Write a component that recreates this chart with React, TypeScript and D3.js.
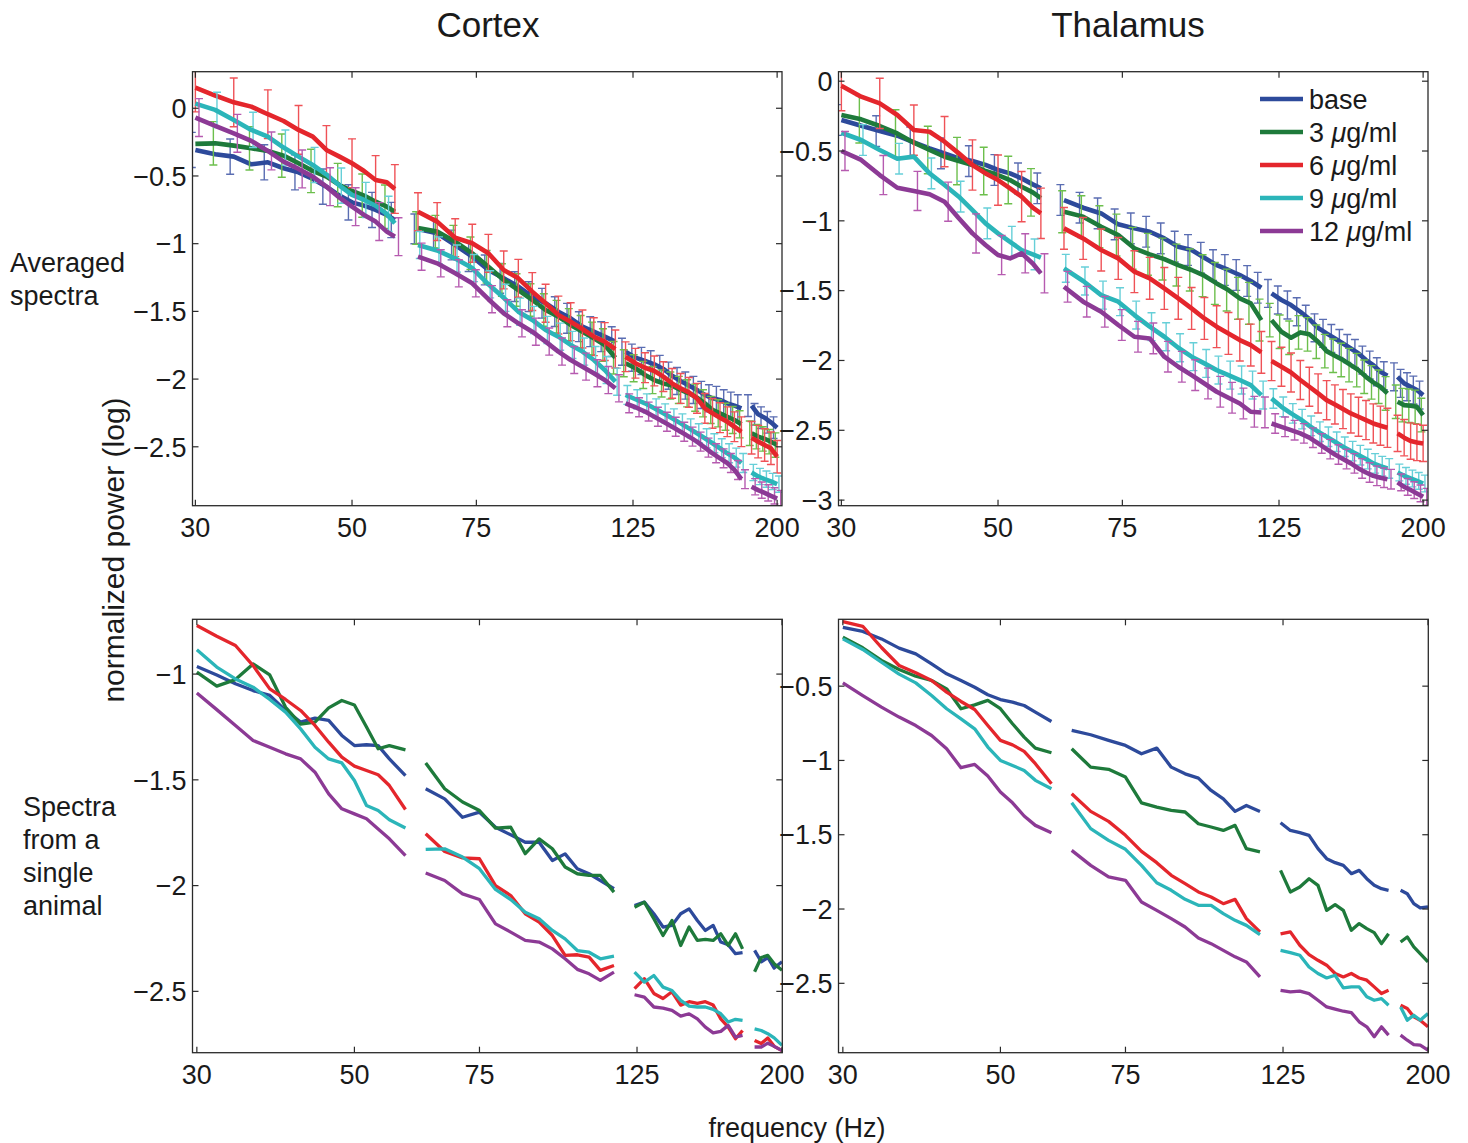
import * as d3 from "d3"

// legend / series
const seriesLabels = ["base", "3", "6", "9", "12"]
const lineColors = ["#2d4a9b", "#1e7a3b", "#e4262c", "#2bb5b9", "#8c3a95"]
const barColors = ["#5a6db2", "#6cbf4c", "#ef5257", "#66cfd8", "#b65bb0"]

// frequency bins (Hz), split where the line-noise harmonics were cut out
const topFreqs = [
  [30, 32, 34, 36, 38, 40, 42, 44, 46, 48, 50, 52, 54, 56, 57.5],
  [62, 66, 70, 74, 78, 82, 86, 90, 94, 98, 102, 106, 110, 114, 118],
  [122, 126, 130, 134, 138, 142, 146, 150, 154, 158, 162, 166, 170, 174, 178],
  [184, 188, 192, 196, 200],
]
const bottomFreqs = [
  [30, 32, 34, 36, 38, 40, 42, 44, 46, 48, 50, 52, 54, 56, 59],
  [63, 67, 71, 75, 79, 83, 87, 91, 95, 99, 103, 107, 111, 116],
  [124, 128, 132, 136, 140, 144, 148, 152, 156, 160, 164, 168, 172, 176],
  [183, 187, 191, 195, 200],
]

const xTicks = [30, 50, 75, 125, 200]

// Cortex, averaged
const ctxAvgBase = [
  -0.308, -0.34, -0.357, -0.414, -0.399, -0.443, -0.473, -0.522, -0.579, -0.645, -0.695, -0.719, -0.751, -0.788, -0.825,
  -0.891, -0.923, -1.01, -1.096, -1.194, -1.256, -1.317, -1.391, -1.44, -1.502, -1.551, -1.613, -1.65, -1.687, -1.723,
  -1.798, -1.842, -1.866, -1.891, -1.925, -1.975, -2.014, -2.048, -2.08, -2.117, -2.142, -2.154, -2.179, -2.196, -2.216,
  -2.196, -2.26, -2.285, -2.319, -2.359,
]
const ctxAvg3 = [
  -0.263, -0.259, -0.276, -0.296, -0.315, -0.35, -0.406, -0.463, -0.505, -0.567, -0.611, -0.645, -0.69, -0.727, -0.764,
  -0.884, -0.911, -0.985, -1.071, -1.17, -1.268, -1.342, -1.416, -1.49, -1.539, -1.6, -1.65, -1.699, -1.748, -1.842,
  -1.883, -1.92, -1.969, -2.007, -2.032, -2.048, -2.08, -2.105, -2.137, -2.179, -2.228, -2.253, -2.278, -2.302, -2.334,
  -2.4, -2.425, -2.442, -2.462, -2.487,
]
const ctxAvg6 = [
  0.153, 0.094, 0.044, 0.012, -0.044, -0.094, -0.16, -0.209, -0.308, -0.357, -0.406, -0.463, -0.53, -0.547, -0.596,
  -0.764, -0.837, -0.956, -0.997, -1.071, -1.194, -1.256, -1.354, -1.44, -1.527, -1.576, -1.63, -1.687, -1.723, -1.778,
  -1.835, -1.883, -1.916, -1.94, -1.982, -2.032, -2.069, -2.098, -2.142, -2.216, -2.253, -2.285, -2.315, -2.352, -2.389,
  -2.433, -2.462, -2.487, -2.511, -2.573,
]
const ctxAvg9 = [
  0.034, -0.012, -0.086, -0.16, -0.209, -0.29, -0.357, -0.419, -0.49, -0.571, -0.64, -0.677, -0.72, -0.78, -0.85,
  -1.01, -1.05, -1.11, -1.18, -1.3, -1.4, -1.502, -1.563, -1.637, -1.687, -1.748, -1.797, -1.859, -1.933, -2.019,
  -2.117, -2.149, -2.179, -2.216, -2.253, -2.29, -2.327, -2.364, -2.4, -2.437, -2.474, -2.511, -2.548, -2.58, -2.62,
  -2.69, -2.719, -2.739, -2.756, -2.776,
]
const ctxAvg12 = [
  -0.069, -0.13, -0.185, -0.241, -0.315, -0.394, -0.448, -0.505, -0.579, -0.66, -0.727, -0.788, -0.837, -0.911, -0.948,
  -1.096, -1.145, -1.219, -1.293, -1.41, -1.514, -1.588, -1.65, -1.723, -1.797, -1.859, -1.908, -1.957, -2.007, -2.068,
  -2.179, -2.208, -2.24, -2.278, -2.315, -2.352, -2.389, -2.425, -2.462, -2.506, -2.548, -2.585, -2.62, -2.671, -2.739,
  -2.795, -2.82, -2.84, -2.862, -2.882,
]
// s.e.m. per segment
const ctxAvgErr = [
  [0.13, 0.11, 0.1, 0.08],
  [0.16, 0.12, 0.1, 0.09],
  [0.18, 0.14, 0.11, 0.12],
  [0.13, 0.1, 0.07, 0.06],
  [0.14, 0.1, 0.07, 0.06],
]

// Thalamus, averaged
const thalAvgBase = [
  -0.278, -0.319, -0.357, -0.39, -0.438, -0.481, -0.517, -0.553, -0.572, -0.6, -0.636, -0.66, -0.696, -0.739, -0.767,
  -0.851, -0.906, -0.947, -1.025, -1.054, -1.078, -1.126, -1.185, -1.209, -1.264, -1.317, -1.352, -1.388, -1.431, -1.479,
  -1.52, -1.567, -1.603, -1.651, -1.704, -1.766, -1.806, -1.842, -1.878, -1.914, -1.95, -1.997, -2.033, -2.081, -2.109,
  -2.117, -2.164, -2.188, -2.212, -2.248,
]
const thalAvg3 = [
  -0.242, -0.273, -0.321, -0.374, -0.44, -0.493, -0.541, -0.572, -0.6, -0.643, -0.672, -0.708, -0.756, -0.796, -0.838,
  -0.935, -0.97, -1.042, -1.102, -1.197, -1.24, -1.274, -1.317, -1.352, -1.393, -1.448, -1.496, -1.555, -1.591, -1.711,
  -1.711, -1.794, -1.837, -1.799, -1.813, -1.866, -1.933, -1.966, -1.997, -2.033, -2.069, -2.117, -2.157, -2.188, -2.236,
  -2.296, -2.32, -2.324, -2.332, -2.391,
]
const thalAvg6 = [
  -0.032, -0.111, -0.159, -0.242, -0.35, -0.362, -0.433, -0.517, -0.6, -0.66, -0.708, -0.767, -0.827, -0.906, -0.946,
  -1.054, -1.126, -1.209, -1.269, -1.364, -1.412, -1.484, -1.555, -1.627, -1.699, -1.758, -1.806, -1.854, -1.89, -1.942,
  -2.004, -2.045, -2.086, -2.14, -2.188, -2.236, -2.284, -2.315, -2.348, -2.379, -2.403, -2.427, -2.451, -2.467, -2.482,
  -2.522, -2.553, -2.577, -2.587, -2.594,
]
const thalAvg9 = [
  -0.369, -0.421, -0.493, -0.555, -0.54, -0.66, -0.743, -0.827, -0.923, -1.018, -1.09, -1.15, -1.209, -1.24, -1.264,
  -1.34, -1.431, -1.532, -1.579, -1.675, -1.758, -1.83, -1.909, -1.973, -2.021, -2.069, -2.105, -2.14, -2.176, -2.248,
  -2.272, -2.332, -2.379, -2.42, -2.468, -2.51, -2.546, -2.582, -2.618, -2.649, -2.678, -2.706, -2.737, -2.757, -2.773,
  -2.802, -2.826, -2.845, -2.862, -2.881,
]
const thalAvg12 = [
  -0.5, -0.564, -0.672, -0.763, -0.786, -0.81, -0.863, -0.982, -1.09, -1.173, -1.245, -1.269, -1.233, -1.305, -1.376,
  -1.472, -1.579, -1.651, -1.746, -1.83, -1.842, -1.973, -2.045, -2.105, -2.165, -2.224, -2.267, -2.308, -2.367, -2.372,
  -2.451, -2.475, -2.499, -2.522, -2.553, -2.594, -2.635, -2.673, -2.706, -2.737, -2.773, -2.802, -2.826, -2.84, -2.85,
  -2.873, -2.905, -2.928, -2.952, -2.976,
]
const thalAvgErr = [
  [0.11, 0.11, 0.1, 0.1],
  [0.17, 0.15, 0.12, 0.12],
  [0.18, 0.15, 0.14, 0.13],
  [0.11, 0.1, 0.07, 0.06],
  [0.14, 0.11, 0.07, 0.06],
]

// Cortex, single animal
const ctxOneBase = [
  -0.964, -1.004, -1.046, -1.078, -1.101, -1.172, -1.227, -1.208, -1.219, -1.29, -1.338, -1.334, -1.338, -1.401, -1.48,
  -1.542, -1.59, -1.677, -1.653, -1.724, -1.76, -1.795, -1.795, -1.881, -1.85, -1.92, -1.944, -1.976, -2.015,
  -2.094, -2.078, -2.133, -2.196, -2.188, -2.133, -2.11, -2.165, -2.212, -2.188, -2.267, -2.28, -2.322, -2.317,
  -2.306, -2.36, -2.34, -2.39, -2.36,
]
const ctxOne3 = [
  -0.991, -1.057, -1.026, -0.952, -1.004, -1.157, -1.237, -1.227, -1.16, -1.125, -1.146, -1.25, -1.353, -1.338, -1.358,
  -1.42, -1.542, -1.605, -1.645, -1.728, -1.724, -1.849, -1.779, -1.826, -1.912, -1.944, -1.952, -1.952, -2.031,
  -2.102, -2.078, -2.157, -2.236, -2.165, -2.283, -2.196, -2.259, -2.254, -2.259, -2.228, -2.283, -2.228, -2.299,
  -2.407, -2.34, -2.33, -2.37, -2.4,
]
const ctxOne6 = [
  -0.77, -0.821, -0.865, -0.96, -1.07, -1.12, -1.172, -1.243, -1.322, -1.393, -1.435, -1.456, -1.476, -1.527, -1.64,
  -1.755, -1.839, -1.869, -1.873, -2.0, -2.047, -2.133, -2.173, -2.236, -2.33, -2.327, -2.338, -2.401, -2.378,
  -2.487, -2.44, -2.51, -2.534, -2.502, -2.565, -2.549, -2.557, -2.549, -2.565, -2.63, -2.669, -2.724, -2.685,
  -2.732, -2.747, -2.72, -2.76, -2.78,
]
const ctxOne9 = [
  -0.885, -0.967, -1.023, -1.062, -1.12, -1.18, -1.259, -1.346, -1.401, -1.42, -1.503, -1.621, -1.645, -1.689, -1.728,
  -1.829, -1.826, -1.865, -1.92, -2.018, -2.066, -2.126, -2.157, -2.212, -2.252, -2.307, -2.315, -2.346, -2.333,
  -2.409, -2.456, -2.425, -2.48, -2.496, -2.543, -2.57, -2.574, -2.574, -2.585, -2.606, -2.645, -2.632, -2.637,
  -2.677, -2.685, -2.7, -2.72, -2.755,
]
const ctxOne12 = [
  -1.089, -1.168, -1.243, -1.314, -1.346, -1.377, -1.401, -1.464, -1.566, -1.637, -1.661, -1.684, -1.732, -1.779, -1.858,
  -1.94, -1.976, -2.039, -2.066, -2.181, -2.22, -2.259, -2.267, -2.299, -2.346, -2.396, -2.417, -2.448, -2.409,
  -2.516, -2.527, -2.574, -2.579, -2.59, -2.617, -2.606, -2.63, -2.669, -2.696, -2.689, -2.661, -2.716, -2.708,
  -2.763, -2.763, -2.745, -2.76, -2.78,
]

// Thalamus, single animal
const thalOneBase = [
  -0.105, -0.132, -0.182, -0.244, -0.283, -0.35, -0.417, -0.462, -0.507, -0.558, -0.59, -0.608, -0.63, -0.675, -0.738,
  -0.798, -0.827, -0.865, -0.899, -0.955, -0.917, -1.045, -1.09, -1.119, -1.202, -1.258, -1.343, -1.303, -1.343,
  -1.419, -1.471, -1.486, -1.504, -1.594, -1.661, -1.688, -1.706, -1.762, -1.74, -1.796, -1.84, -1.863, -1.874,
  -1.874, -1.897, -1.964, -1.993, -1.986,
]
const thalOne3 = [
  -0.17, -0.242, -0.327, -0.388, -0.433, -0.462, -0.518, -0.652, -0.626, -0.596, -0.652, -0.753, -0.843, -0.917, -0.948,
  -0.921, -1.045, -1.06, -1.112, -1.285, -1.314, -1.336, -1.347, -1.426, -1.448, -1.471, -1.437, -1.594, -1.616,
  -1.74, -1.885, -1.852, -1.796, -1.841, -2.009, -1.971, -2.009, -2.143, -2.098, -2.132, -2.159, -2.233, -2.166,
  -2.222, -2.188, -2.255, -2.3, -2.356,
]
const thalOne6 = [
  -0.065, -0.097, -0.24, -0.361, -0.41, -0.462, -0.54, -0.603, -0.657, -0.765, -0.865, -0.895, -0.939, -1.022, -1.157,
  -1.224, -1.343, -1.41, -1.504, -1.612, -1.688, -1.773, -1.829, -1.885, -1.919, -1.964, -1.935, -2.065, -2.154,
  -2.168, -2.154, -2.244, -2.307, -2.345, -2.378, -2.434, -2.457, -2.434, -2.464, -2.479, -2.524, -2.569, -2.547,
  -2.648, -2.67, -2.726, -2.748, -2.793,
]
const thalOne9 = [
  -0.182, -0.253, -0.339, -0.419, -0.478, -0.563, -0.652, -0.72, -0.787, -0.91, -1.0, -1.034, -1.067, -1.134, -1.19,
  -1.285, -1.459, -1.538, -1.598, -1.706, -1.823, -1.874, -1.935, -1.975, -1.975, -2.031, -2.076, -2.11, -2.172,
  -2.278, -2.293, -2.311, -2.39, -2.434, -2.464, -2.446, -2.531, -2.524, -2.524, -2.591, -2.614, -2.603, -2.648,
  -2.659, -2.748, -2.715, -2.748, -2.704,
]
const thalOne12 = [
  -0.478, -0.563, -0.641, -0.708, -0.765, -0.832, -0.921, -1.049, -1.027, -1.105, -1.213, -1.285, -1.374, -1.437, -1.486,
  -1.605, -1.706, -1.784, -1.807, -1.953, -2.009, -2.065, -2.121, -2.195, -2.233, -2.278, -2.322, -2.356, -2.457,
  -2.547, -2.558, -2.553, -2.569, -2.614, -2.659, -2.674, -2.688, -2.697, -2.759, -2.793, -2.86, -2.793, -2.849,
  -2.849, -2.883, -2.912, -2.916, -2.95,
]

const FONT = "'Liberation Sans', Arial, Helvetica, sans-serif"
const minus = (v: number) => (v < 0 ? "\u2212" + Math.abs(v) : String(v))

const panels = [
  {
    id: "ctxAvg", x: 192.5, y: 71.7, w: 589.5, h: 434,
    xDomain: [29.72, 203.2], yDomain: [-2.935, 0.27], yTicks: [0, -0.5, -1, -1.5, -2, -2.5],
    freqs: topFreqs, series: [ctxAvgBase, ctxAvg3, ctxAvg6, ctxAvg9, ctxAvg12], err: ctxAvgErr, lw: 4.6,
  },
  {
    id: "thalAvg", x: 838.5, y: 71.7, w: 589.5, h: 434,
    xDomain: [29.72, 203.2], yDomain: [-3.04, 0.068], yTicks: [0, -0.5, -1, -1.5, -2, -2.5, -3],
    freqs: topFreqs, series: [thalAvgBase, thalAvg3, thalAvg6, thalAvg9, thalAvg12], err: thalAvgErr, lw: 4.6,
  },
  {
    id: "ctxOne", x: 192.5, y: 619.3, w: 589.8, h: 433.4,
    xDomain: [29.58, 200.2], yDomain: [-2.79, -0.741], yTicks: [-1, -1.5, -2, -2.5],
    freqs: bottomFreqs, series: [ctxOneBase, ctxOne3, ctxOne6, ctxOne9, ctxOne12], err: null, lw: 3.3,
  },
  {
    id: "thalOne", x: 838.5, y: 619.3, w: 589.8, h: 433.4,
    xDomain: [29.58, 200.2], yDomain: [-2.967, -0.05], yTicks: [-0.5, -1, -1.5, -2, -2.5],
    freqs: bottomFreqs, series: [thalOneBase, thalOne3, thalOne6, thalOne9, thalOne12], err: null, lw: 3.3,
  },
]

function splitSegments(freqs: number[][], values: number[]) {
  let i = 0
  return freqs.map((seg) => seg.map((f) => ({ f, v: values[i++] })))
}

function Panel({ p }: { p: any }) {
  const x = d3.scaleLog().domain(p.xDomain).range([p.x, p.x + p.w])
  const y = d3.scaleLinear().domain(p.yDomain).range([p.y + p.h, p.y])
  const line = d3
    .line<{ f: number; v: number }>()
    .x((d) => x(d.f))
    .y((d) => y(d.v))
  const tick = 6
  const bottom = p.y + p.h
  const right = p.x + p.w

  return (
    <g>
      <defs>
        <clipPath id={"clip-" + p.id}>
          <rect x={p.x} y={p.y} width={p.w} height={p.h} />
        </clipPath>
      </defs>
      <g clipPath={`url(#clip-${p.id})`}>
        {p.series.map((vals: number[], k: number) => {
          const segs = splitSegments(p.freqs, vals)
          return (
            <g key={k}>
              {p.err &&
                segs.map((seg, s) =>
                  seg.map((d, j) => {
                    if (s === 0 && (j + k) % 2 !== 0) return null
                    const e = p.err[k][s]
                    const cx = x(d.f) + (k - 2) * 1.8
                    const y1 = y(d.v + e)
                    const y2 = y(d.v - e)
                    return (
                      <g key={s + "-" + j} stroke={barColors[k]} strokeWidth={1.4}>
                        <line x1={cx} x2={cx} y1={y1} y2={y2} />
                        <line x1={cx - 4} x2={cx + 4} y1={y1} y2={y1} />
                        <line x1={cx - 4} x2={cx + 4} y1={y2} y2={y2} />
                      </g>
                    )
                  })
                )}
              {segs.map((seg, s) => (
                <path
                  key={s}
                  d={line(seg) || ""}
                  fill="none"
                  stroke={lineColors[k]}
                  strokeWidth={p.lw}
                  strokeLinejoin="round"
                  strokeLinecap="butt"
                />
              ))}
            </g>
          )
        })}
      </g>
      <rect x={p.x} y={p.y} width={p.w} height={p.h} fill="none" stroke="#2a2a2a" strokeWidth={1.3} />
      <g stroke="#2a2a2a" strokeWidth={1.2}>
        {xTicks.map((t) => (
          <g key={t}>
            <line x1={x(t)} x2={x(t)} y1={bottom} y2={bottom - tick} />
            <line x1={x(t)} x2={x(t)} y1={p.y} y2={p.y + tick} />
          </g>
        ))}
        {p.yTicks.map((t: number) => (
          <g key={t}>
            <line x1={p.x} x2={p.x + tick} y1={y(t)} y2={y(t)} />
            <line x1={right} x2={right - tick} y1={y(t)} y2={y(t)} />
          </g>
        ))}
      </g>
      <g fontFamily={FONT} fontSize={27} fill="#1a1a1a">
        {xTicks.map((t) => (
          <text key={t} x={x(t)} y={bottom + 31} textAnchor="middle">
            {t}
          </text>
        ))}
        {p.yTicks.map((t: number) => (
          <text key={t} x={p.x - 6} y={y(t)} dy="0.36em" textAnchor="end">
            {minus(t)}
          </text>
        ))}
      </g>
    </g>
  )
}

function Legend() {
  const x0 = 1260
  const y0 = 99
  const step = 33
  return (
    <g fontFamily={FONT} fontSize={27} fill="#1a1a1a">
      {seriesLabels.map((s, i) => (
        <g key={s}>
          <line x1={x0} x2={x0 + 43} y1={y0 + i * step} y2={y0 + i * step} stroke={lineColors[i]} strokeWidth={4.6} />
          <text x={x0 + 49} y={y0 + i * step} dy="0.36em">
            {i === 0 ? (
              s
            ) : (
              <>
                {s + " "}
                <tspan fontStyle="italic">μ</tspan>
                {"g/ml"}
              </>
            )}
          </text>
        </g>
      ))}
    </g>
  )
}

export default function App() {
  return (
    <div style={{ position: "absolute", left: 0, top: 0 }}>
      <svg width={1468} height={1143} style={{ display: "block", background: "#fff" }}>
        <g fontFamily={FONT} fill="#1a1a1a">
          <text x={488} y={37} fontSize={35} textAnchor="middle">Cortex</text>
          <text x={1128} y={37} fontSize={35} textAnchor="middle">Thalamus</text>
          <text fontSize={27}>
            <tspan x={10} y={272}>Averaged</tspan>
            <tspan x={10} y={305}>spectra</tspan>
          </text>
          <text fontSize={27}>
            <tspan x={23} y={816}>Spectra</tspan>
            <tspan x={23} y={849}>from a</tspan>
            <tspan x={23} y={882}>single</tspan>
            <tspan x={23} y={915}>animal</tspan>
          </text>
          <text transform="translate(113,550) rotate(-90)" fontSize={30} textAnchor="middle" dy="0.36em">
            normalized power (log)
          </text>
          <text x={797} y={1137} fontSize={27} textAnchor="middle">frequency (Hz)</text>
        </g>
        {panels.map((p) => (
          <Panel key={p.id} p={p} />
        ))}
        <Legend />
      </svg>
    </div>
  )
}
